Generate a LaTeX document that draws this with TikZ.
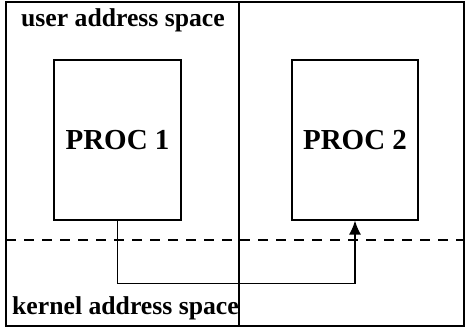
\documentclass[tikz,border=0pt]{standalone}
\usepackage{fontspec}
\setmainfont{Liberation Serif}
\usetikzlibrary{positioning,arrows.meta}
\tikzset{>=latex}

\begin{document}
\begin{tikzpicture}[x=1pt,y=-1pt,
		proc/.style={draw, line width=1.3pt, inner sep=0pt, minimum width=127pt, minimum height=160pt, font=\fontsize{29}{30}\selectfont\bfseries},
		lbl/.style={inner sep=0pt, font=\fontsize{25.7}{27}\selectfont\bfseries},
		wall/.style={line width=2pt},
		link/.style={line width=1.3pt}]
		\useasboundingbox (0,0) rectangle (467,328);
		% frame and walls
		\coordinate (tl) at (6,2);
		\coordinate (br) at (464,326);
		\coordinate (mt) at (239,2);
		\coordinate (mb) at (239,326);
		\draw[wall] (tl) rectangle (br);
		\draw[wall] (mt) -- (mb);
		\coordinate (dl) at (6,240);
		\coordinate (dr) at (464,240);
		\draw[link, dash pattern=on 10pt off 8pt] (dl) -- (dr);
		% processes
		\node[proc] (p1) at (117.5,140) {PROC 1};
		\node[proc, minimum width=126pt] (p2) at (355,140) {PROC 2};
		\node[lbl] (user) at (123,20) {user address space};
		\node[lbl, anchor=base west] (kern) at (12,315) {kernel address space};
		\draw[link, -{Latex[length=14pt,width=12pt]}] (p1.south) -- ++(0,63) -| (p2.south);
	\end{tikzpicture}
\end{document}
